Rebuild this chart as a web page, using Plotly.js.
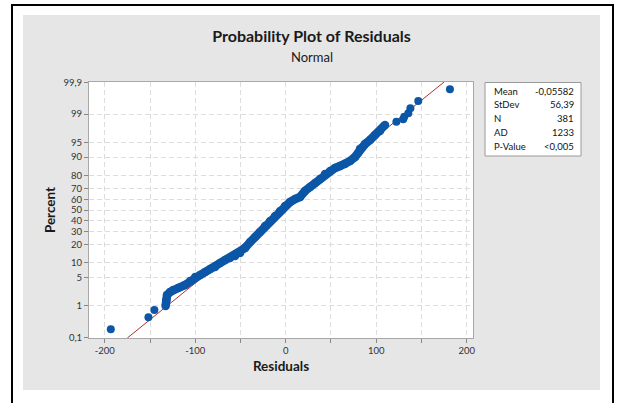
<!DOCTYPE html>
<html><head><meta charset="utf-8">
<script src="https://cdn.plot.ly/plotly-3.0.1.min.js"></script>
<style>
html,body{margin:0;padding:0;background:#fff;width:620px;height:403px;overflow:hidden;}
#frame{position:absolute;left:11px;top:4px;width:603px;height:430px;border:2px solid #000;box-sizing:border-box;}
#chart{position:absolute;left:23px;top:15px;width:577px;height:375px;}
</style></head><body>
<div id="frame"></div>
<div id="chart"></div>
<script>
// ---- data ----
const tailLowResiduals = [-193.4, -151.8, -145.2];
const tailLowPercents  = [0.19, 0.46, 0.76];
const bandResiduals = [-132.8, -132.0, -131.2, -127.8, -124.5, -119.0, -111.3, -105.7, -100.2, -94.7,
  -89.2, -83.6, -78.1, -72.6, -67.1, -61.5, -56.0, -50.5, -45.0, -39.4, -33.9, -28.4, -22.9, -17.3,
  -11.8, -6.3, -0.8, 4.8, 10.3, 15.8, 21.3, 26.9, 32.4, 37.9, 43.4, 49.0, 54.5, 60.0, 65.5, 71.1,
  76.6, 79.9, 82.1, 87.6, 93.1, 98.7, 104.2, 109.7];
const bandPercents = [0.99, 1.45, 1.96, 2.33, 2.61, 2.92, 3.44, 4.24, 5.20, 5.73,
  6.62, 7.61, 8.33, 9.92, 11.24, 12.20, 13.20, 14.82, 17.82, 21.86, 25.62, 29.67, 34.9, 39.5,
  44.2, 49.0, 53.9, 57.7, 60.5, 62.4, 67.8, 71.2, 74.4, 77.4, 80.9, 82.8, 84.6, 85.7, 86.8, 88.3,
  90.1, 91.7, 93.1, 94.5, 95.5, 96.56, 97.24, 98.04];
const tailHighResiduals = [122.3, 129.8, 131.0, 135.5, 137.8, 146.5, 181.5];
const tailHighPercents  = [98.39, 98.61, 98.82, 99.05, 99.32, 99.59, 99.83];

const statMean = -0.05582;
const statSd = 56.39;
const statLabels = ['Mean', 'StDev', 'N', 'AD', 'P-Value'];
const statValues = ['-0,05582', '56,39', '381', '1233', '<0,005'];

const yTickPercents = [0.1, 1, 5, 10, 20, 30, 40, 50, 60, 70, 80, 90, 95, 99, 99.9];
const yTickLabels = ['0,1', '1', '5', '10', '20', '30', '40', '50', '60', '70', '80', '90', '95', '99', '99,9'];
const xTickVals = [-200, -150, -100, -50, 0, 50, 100, 150, 200];
const xTickLabels = ['-200', '', '-100', '', '0', '', '100', '', '200'];

// ---- normal probability scale ----
function invNorm(p){
  const a=[-3.969683028665376e+01,2.209460984245205e+02,-2.759285104469687e+02,1.383577518672690e+02,-3.066479806614716e+01,2.506628277459239e+00];
  const b=[-5.447609879822406e+01,1.615858368580409e+02,-1.556989798598866e+02,6.680131188771972e+01,-1.328068155288572e+01];
  const c=[-7.784894002430293e-03,-3.223964580411365e-01,-2.400758277161838e+00,-2.549732539343734e+00,4.374664141464968e+00,2.938163982698783e+00];
  const d=[7.784695709041462e-03,3.224671290700398e-01,2.445134137142996e+00,3.754408661907416e+00];
  const pl=0.02425; let q,r;
  if(p<pl){q=Math.sqrt(-2*Math.log(p));return (((((c[0]*q+c[1])*q+c[2])*q+c[3])*q+c[4])*q+c[5])/((((d[0]*q+d[1])*q+d[2])*q+d[3])*q+1);}
  if(p<=1-pl){q=p-0.5;r=q*q;return (((((a[0]*r+a[1])*r+a[2])*r+a[3])*r+a[4])*r+a[5])*q/(((((b[0]*r+b[1])*r+b[2])*r+b[3])*r+b[4])*r+1);}
  q=Math.sqrt(-2*Math.log(1-p));return -(((((c[0]*q+c[1])*q+c[2])*q+c[3])*q+c[4])*q+c[5])/((((d[0]*q+d[1])*q+d[2])*q+d[3])*q+1);
}
const toZ = pc => invNorm(pc / 100);

const Y_RANGE = [-3.105, 3.105];
const X_RANGE = [-217.5, 207];
const BLUE = '#0b56a6';

// pixel -> paper helpers (plot area: x 89..473, y 82..338 in page pixels)
const px = x => (x - 89) / 384;
const py = y => (338 - y) / 256;

const traces = [
  { // fitted line
    x: [statMean + statSd * Y_RANGE[0], statMean + statSd * Y_RANGE[1]],
    y: Y_RANGE,
    mode: 'lines', line: {color: '#b03030', width: 1}, hoverinfo: 'skip', showlegend: false
  },
  {
    x: bandResiduals, y: bandPercents.map(toZ),
    mode: 'lines+markers', line: {color: BLUE, width: 8.5},
    marker: {color: BLUE, size: 8.5}, showlegend: false
  },
  {
    x: tailLowResiduals.concat(tailHighResiduals),
    y: tailLowPercents.concat(tailHighPercents).map(toZ),
    mode: 'markers', marker: {color: BLUE, size: 8}, showlegend: false
  }
];

const gridStyle = {gridcolor: '#dddddd', griddash: '5px,3px', gridwidth: 1};
const tickFont = {family: 'Lato, sans-serif', size: 9.5, color: '#333'};

const annotations = [{
  xref: 'paper', yref: 'paper', x: px(311.5), y: py(57), xanchor: 'center', yanchor: 'middle',
  text: 'Normal', showarrow: false, font: {family: 'Lato, sans-serif', size: 13, color: '#1a1a1a'}
}];
statLabels.forEach((lab, i) => {
  const yy = py(91 + i * 13.8);
  annotations.push({xref:'paper', yref:'paper', x: px(492), y: yy, xanchor:'left', yanchor:'middle',
    text: lab, showarrow:false, font:{family:'Lato, sans-serif', size:9.5, color:'#111'}});
  annotations.push({xref:'paper', yref:'paper', x: px(576), y: yy, xanchor:'right', yanchor:'middle',
    text: statValues[i], showarrow:false, font:{family:'Lato, sans-serif', size:9.5, color:'#111'}});
});

const layout = {
  width: 577, height: 375,
  margin: {l: 66, r: 127, t: 67, b: 52, pad: 0},
  paper_bgcolor: '#e6e6e6', plot_bgcolor: '#ffffff',
  title: {
    text: 'Probability Plot of Residuals',
    font: {family: 'Lato, sans-serif', size: 16, weight: 'bold', color: '#1a1a1a'},
    x: 0.5, xref: 'container', xanchor: 'center',
    y: 1 - 16 / 375, yref: 'container', yanchor: 'top'
  },
  xaxis: Object.assign({
    range: X_RANGE, tickmode: 'array', tickvals: xTickVals, ticktext: xTickLabels,
    ticks: 'outside', ticklen: 4, tickcolor: '#888', tickfont: tickFont,
    showline: true, linecolor: '#a8a8a8', mirror: true, zeroline: false,
    title: {text: 'Residuals', font: {family: 'Lato, sans-serif', size: 13.5, weight: 'bold', color: '#1a1a1a'}, standoff: 6}
  }, gridStyle),
  yaxis: Object.assign({
    range: Y_RANGE, tickmode: 'array', tickvals: yTickPercents.map(toZ), ticktext: yTickLabels,
    ticks: 'outside', ticklen: 4, tickcolor: '#888', tickfont: tickFont,
    showline: true, linecolor: '#a8a8a8', mirror: true, zeroline: false,
    title: {text: 'Percent', font: {family: 'Lato, sans-serif', size: 13.5, weight: 'bold', color: '#1a1a1a'}, standoff: 4}
  }, gridStyle),
  shapes: [{
    type: 'rect', xref: 'paper', yref: 'paper',
    x0: px(485), x1: px(581), y0: py(156), y1: py(82.5),
    line: {color: '#9a9a9a', width: 1}, fillcolor: '#ffffff', layer: 'below'
  }],
  annotations: annotations
};

Plotly.newPlot('chart', traces, layout, {displayModeBar: false, staticPlot: true});
</script>
</body></html>
